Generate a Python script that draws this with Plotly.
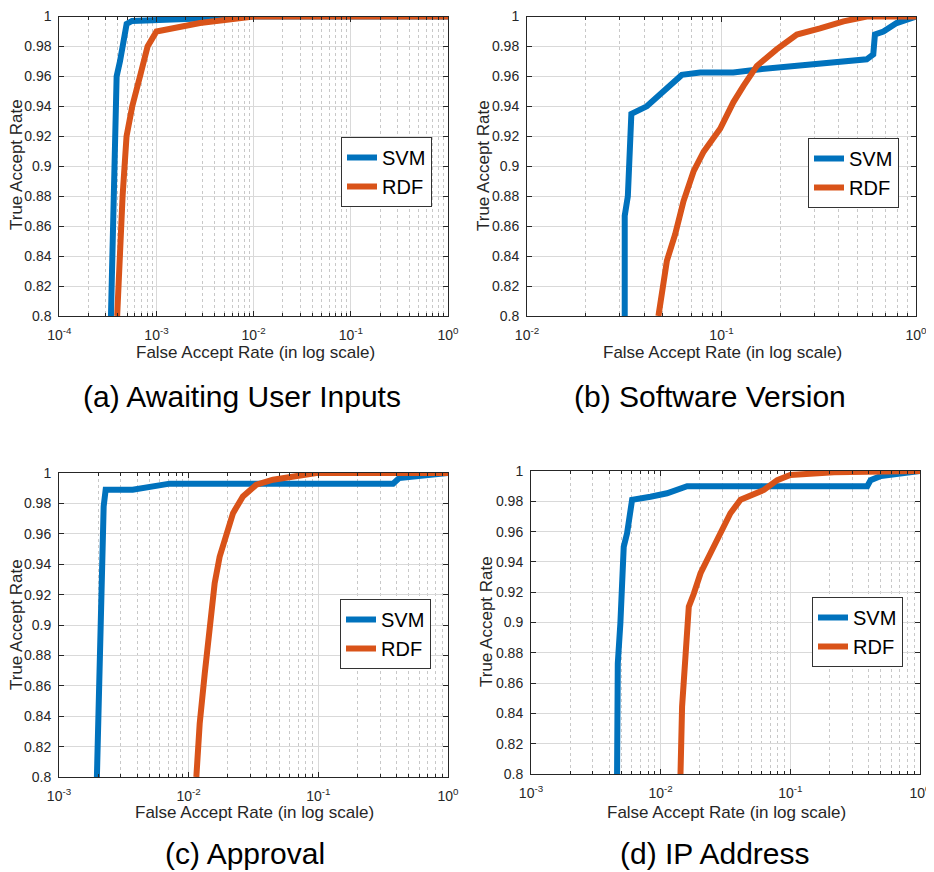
import plotly.graph_objects as go

# page body has an 8px margin, so the figure is drawn 8px in; keep it inside the window
OFF = 8
W, H = 934 - OFF, 872 - OFF

# ---------------- data ----------------
a_svm_x = [3.40e-4, 3.54e-4, 3.73e-4, 3.89e-4, 4.21e-4, 4.93e-4, 5.6e-4, 1.3e-3, 3.0e-3, 1.0e-2, 1.0]
a_svm_y = [0.800, 0.840, 0.900, 0.960, 0.970, 0.995, 0.997, 0.998, 0.999, 1.000, 1.000]
a_rdf_x = [3.94e-4, 4.14e-4, 4.48e-4, 4.92e-4, 5.63e-4, 6.76e-4, 8.1e-4, 1.0e-3, 2.8e-3, 1.0e-2, 1.0]
a_rdf_y = [0.800, 0.840, 0.880, 0.920, 0.940, 0.960, 0.980, 0.990, 0.9956, 1.000, 1.000]

b_svm_x = [0.0318, 0.0318, 0.0330, 0.0344, 0.0413, 0.0524, 0.0625, 0.0777, 0.115, 0.158,
           0.254, 0.376, 0.558, 0.603, 0.615, 0.680, 0.795, 1.0]
b_svm_y = [0.800, 0.867, 0.880, 0.935, 0.940, 0.9515, 0.961, 0.9626, 0.9626, 0.9648,
           0.967, 0.969, 0.9714, 0.9747, 0.988, 0.990, 0.9956, 1.000]
b_rdf_x = [0.0474, 0.0504, 0.0524, 0.0578, 0.0638, 0.0718, 0.0809, 0.0984, 0.115, 0.1297,
           0.152, 0.192, 0.244, 0.321, 0.424, 0.558, 1.0]
b_rdf_y = [0.800, 0.8216, 0.837, 0.8546, 0.8767, 0.8965, 0.9097, 0.925, 0.9427, 0.9537,
           0.967, 0.978, 0.9879, 0.992, 0.9967, 1.000, 1.000]

c_svm_x = [1.96e-3, 2.06e-3, 2.12e-3, 2.21e-3, 2.29e-3, 3.7e-3, 7.13e-3, 0.377, 0.42, 1.0]
c_svm_y = [0.800, 0.868, 0.934, 0.978, 0.989, 0.989, 0.993, 0.993, 0.9967, 1.000]
c_rdf_x = [0.01146, 0.01216, 0.0133, 0.01452, 0.01587, 0.01734, 0.0195, 0.02198, 0.0262,
           0.0333, 0.0447, 0.0718, 0.0966, 1.0]
c_rdf_y = [0.800, 0.835, 0.868, 0.901, 0.9275, 0.945, 0.960, 0.9736, 0.9846,
           0.9923, 0.9956, 0.9989, 1.000, 1.000]

d_svm_x = [4.61e-3, 4.67e-3, 4.89e-3, 5.04e-3, 5.19e-3, 5.51e-3, 5.84e-3, 6.02e-3, 8.34e-3,
           0.0112, 0.016, 0.392, 0.416, 0.5, 1.0]
d_svm_y = [0.800, 0.873, 0.8996, 0.928, 0.950, 0.959, 0.9765, 0.981, 0.983,
           0.9853, 0.990, 0.990, 0.994, 0.9967, 1.000]
d_rdf_x = [0.01422, 0.01463, 0.01553, 0.01648, 0.018, 0.0203, 0.0242, 0.0289, 0.0345,
           0.0413, 0.0493, 0.0625, 0.0793, 0.1, 0.217, 1.0]
d_rdf_y = [0.800, 0.8446, 0.8776, 0.9105, 0.919, 0.9325, 0.9457, 0.9589, 0.9721,
           0.981, 0.9842, 0.9875, 0.994, 0.9974, 0.9991, 1.000]

series_names = ["SVM", "RDF"]
captions = ["(a) Awaiting User Inputs", "(b) Software Version", "(c) Approval", "(d) IP Address"]
x_decades = [[-4, -3, -2, -1, 0], [-2, -1, 0], [-3, -2, -1, 0], [-3, -2, -1, 0]]
y_ticks = [0.8, 0.82, 0.84, 0.86, 0.88, 0.9, 0.92, 0.94, 0.96, 0.98, 1.0]
y_tick_text = ["0.8", "0.82", "0.84", "0.86", "0.88", "0.9", "0.92", "0.94", "0.96", "0.98", "1"]
x_title = "False Accept Rate (in log scale)"
y_title = "True Accept Rate"

# ---------------- styling / layout ----------------
FONT = "Liberation Sans, Arial, Helvetica, sans-serif"
BLUE = "#0072BD"
ORANGE = "#D95319"
AX = "#262626"

def px(x):
    return (x - OFF) / W

def py(y):
    return 1 - (y - OFF) / H

# plot-area boxes in window pixels: left, right, top, bottom
boxes = [(59.3, 448, 16.5, 316), (527, 916, 16.5, 316),
         (59, 448, 473, 777), (531, 920, 471, 774)]
xtitle_pos = [(255, 352), (722, 352), (254, 812), (726, 812)]
ytitle_pos = [(16, 165), (483, 165), (16, 625), (486, 622)]
caption_pos = [(242, 396), (710, 396), (245, 853), (715, 853)]
legend_pos = [(341, 137), (808, 138), (340, 599), (812, 597)]

data = [(a_svm_x, a_svm_y, a_rdf_x, a_rdf_y),
        (b_svm_x, b_svm_y, b_rdf_x, b_rdf_y),
        (c_svm_x, c_svm_y, c_rdf_x, c_rdf_y),
        (d_svm_x, d_svm_y, d_rdf_x, d_rdf_y)]

fig = go.Figure()
annotations = []
layout_upd = {}

for i in range(4):
    sx, sy, rx, ry = data[i]
    suffix = "" if i == 0 else str(i + 1)
    xa = "x" + suffix
    ya = "y" + suffix
    lg = "legend" + suffix
    fig.add_trace(go.Scatter(x=sx, y=sy, mode="lines", name=series_names[0],
                             line=dict(color=BLUE, width=6), xaxis=xa, yaxis=ya,
                             legend=lg, showlegend=True, hoverinfo="skip"))
    fig.add_trace(go.Scatter(x=rx, y=ry, mode="lines", name=series_names[1],
                             line=dict(color=ORANGE, width=6), xaxis=xa, yaxis=ya,
                             legend=lg, showlegend=True, hoverinfo="skip"))
    l, r, t, b = boxes[i]
    decs = x_decades[i]
    minor_vals = [m * 10.0 ** d for d in decs[:-1] for m in range(2, 10)]
    layout_upd["xaxis" + suffix] = dict(
        type="log", range=[decs[0], decs[-1]], domain=[px(l), px(r)],
        anchor=ya, automargin=False, tickmode="array", tickvals=[10.0 ** d for d in decs],
        ticktext=["10<sup>%d</sup>" % d for d in decs],
        showline=True, linecolor=AX, linewidth=1, mirror="ticks",
        ticks="inside", ticklen=5, tickcolor=AX,
        showgrid=True, gridcolor="#d9d9d9", gridwidth=1,
        minor=dict(tickmode="array", tickvals=minor_vals, ticks="inside", ticklen=3,
                   tickcolor=AX, showgrid=True, gridcolor="#c8c8c8", griddash="dot",
                   gridwidth=1),
        tickfont=dict(family=FONT, size=14, color=AX),
        ticklabeloverflow="allow",
        ticklabelstandoff=6, zeroline=False, fixedrange=True)
    layout_upd["yaxis" + suffix] = dict(
        range=[0.8, 1.0], domain=[py(b), py(t)], anchor=xa, automargin=False,
        tickmode="array", tickvals=y_ticks, ticktext=y_tick_text,
        showline=True, linecolor=AX, linewidth=1, mirror="ticks",
        ticks="inside", ticklen=5, tickcolor=AX,
        showgrid=True, gridcolor="#d9d9d9", gridwidth=1,
        tickfont=dict(family=FONT, size=14, color=AX),
        ticklabeloverflow="allow",
        ticklabelstandoff=4, zeroline=False, fixedrange=True)
    lx, ly = legend_pos[i]
    layout_upd[lg] = dict(x=px(lx), y=py(ly), xanchor="left", yanchor="top",
                          xref="paper", yref="paper",
                          bgcolor="white", bordercolor="#333333", borderwidth=1,
                          font=dict(family=FONT, size=20, color="black"),
                          tracegroupgap=0, itemwidth=30)
    tx, ty = xtitle_pos[i]
    annotations.append(dict(text=x_title, x=px(tx), y=py(ty), xref="paper", yref="paper",
                            showarrow=False, xanchor="center", yanchor="middle",
                            font=dict(family=FONT, size=17, color=AX)))
    tx, ty = ytitle_pos[i]
    annotations.append(dict(text=y_title, x=px(tx), y=py(ty), xref="paper", yref="paper",
                            showarrow=False, xanchor="center", yanchor="middle",
                            textangle=-90, font=dict(family=FONT, size=17, color=AX)))
    tx, ty = caption_pos[i]
    annotations.append(dict(text=captions[i], x=px(tx), y=py(ty), xref="paper", yref="paper",
                            showarrow=False, xanchor="center", yanchor="middle",
                            font=dict(family=FONT, size=30, color="black")))

fig.update_layout(template="none", width=W, height=H, autosize=False,
                  margin=dict(l=0, r=0, t=0, b=0, pad=0),
                  paper_bgcolor="white", plot_bgcolor="white",
                  font=dict(family=FONT, color=AX),
                  annotations=annotations, **layout_upd)

fig.write_html("out.html")
